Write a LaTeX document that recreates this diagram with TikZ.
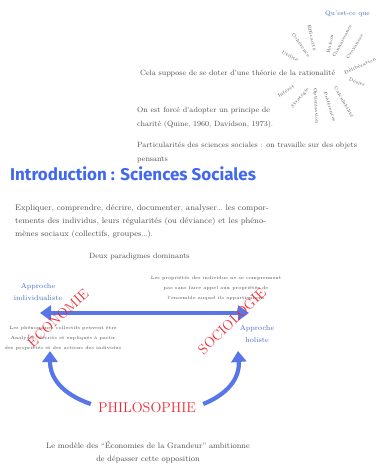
\documentclass[tikz,border=0pt]{standalone}
\usepackage{fontspec}
\newfontfamily\titlefont{Fira Sans}
\usetikzlibrary{arrows.meta}
\definecolor{txt}{RGB}{80,80,80}
\definecolor{ablue}{RGB}{88,118,232}
\definecolor{tblue}{RGB}{72,108,190}
\definecolor{ttlblue}{RGB}{64,104,240}
\definecolor{rred}{RGB}{242,42,52}
\tikzset{
  body/.style={inner sep=0pt, anchor=base west, text=txt, font=\fontsize{7.6}{9}\selectfont},
  bodyl/.style={inner sep=0pt, anchor=base west, text=txt, font=\fontsize{8.1}{9}\selectfont},
  tiny/.style={inner sep=0pt, anchor=base, text=txt, font=\fontsize{4.6}{5}\selectfont},
  spoke/.style={inner sep=0pt, text=txt, font=\fontsize{4.6}{5}\selectfont},
  appr/.style={inner sep=0pt, anchor=base, text=tblue, font=\fontsize{7.2}{9}\selectfont},
  redlbl/.style={inner sep=0pt, text=rred, font=\fontsize{14}{16}\selectfont},
  bigarrow/.style={ablue, line width=4.2pt, -{Triangle[length=11pt,width=15pt]}},
}
\begin{document}
\begin{tikzpicture}[x=1pt,y=-1pt]
\useasboundingbox (0,0) rectangle (377,465);
\fill[white] (0,0) rectangle (377,465);

% top right
\node[inner sep=0pt, anchor=base west, text=tblue, font=\fontsize{6.6}{8}\selectfont] (qcq) at (325,16) {Qu'est-ce que};
\node[body] (l1) at (140,76) {Cela suppose de se doter d'une théorie de la rationalité};

% spokes
\node[spoke, rotate=-28] (s1) at (290,56) {Utilité};
\node[spoke, rotate=-55] (s2) at (301,45) {Cohérence};
\node[spoke, rotate=-77] (s3) at (312,38) {Efficacité};
\node[spoke, rotate=78] (s4) at (330,44) {Raison};
\node[spoke, rotate=62] (s5) at (342,41) {Connaissance};
\node[spoke, rotate=58] (s6) at (355,47) {Croyances};
\node[spoke, rotate=25] (s7) at (360,66) {Délibération};
\node[spoke, rotate=-20] (s8) at (357,82) {Désirs};
\node[spoke, rotate=-60] (s9) at (344,102) {Calculabilité};
\node[spoke, rotate=-72] (s10) at (330,107) {Préférences};
\node[spoke, rotate=-87] (s11) at (316,106) {Optimisation};
\node[spoke, rotate=49] (s12) at (300,98) {Stratégie};
\node[spoke, rotate=33] (s13) at (286,91) {Intérêt};

\node[body] (l2a) at (137,113) {On est forcé d'adopter un principe de};
\node[body] (l2b) at (137,127) {charité (Quine, 1960, Davidson, 1973).};
\node[body] (l3a) at (137,148) {Particularités des sciences sociales : on travaille sur des objets};
\node[body] (l3b) at (137,161) {pensants};

% title
\node[inner sep=0pt, anchor=base west, text=ttlblue, font=\titlefont\bfseries\fontsize{17}{20}\selectfont] (title) at (10,180) {Introduction : Sciences Sociales};

\node[bodyl] (e1) at (15,210) {Expliquer, comprendre, décrire, documenter, analyser… les compor-};
\node[bodyl] (e2) at (15,223) {tements des individus, leurs régularités (ou déviance) et les phéno-};
\node[bodyl] (e3) at (15,236) {mènes sociaux (collectifs, groupes…).};

\node[body] (deux) at (89,258) {Deux paradigmes dominants};

% holist small text
\node[tiny] (h1) at (216,279) {Les propriétés des individus ne se comprennent};
\node[tiny] (h2) at (216,289) {pas sans faire appel aux propriétés de};
\node[tiny] (h3) at (216,299) {l'ensemble auquel ils appartiennent};

% individualist small text
\node[tiny] (i1) at (63,329) {Les phénomènes collectifs peuvent être};
\node[tiny] (i2) at (63,339) {Analysés, décrits et expliqués à partir};
\node[tiny] (i3) at (63,349) {des propriétés et des actions des individus};

\node[appr] (ai1) at (38,288) {Approche};
\node[appr] (ai2) at (38,300) {individualiste};
\node[appr] (ah1) at (257,330) {Approche};
\node[appr] (ah2) at (257,342) {holiste};

% horizontal arrow
\coordinate (hl) at (40,313);
\coordinate (hr) at (249,313);
\coordinate (hm) at (144,313);
\draw[bigarrow] (hm) -- (hl);
\draw[bigarrow] (hm) -- (hr);

\node[redlbl, rotate=43] (eco) at (57,317) {ÉCONOMIE};
\node[redlbl, rotate=44] (soc) at (232,321) {SOCIOLOGIE};

% philosophy
\node[inner sep=0pt, text=rred, font=\fontsize{14.3}{16}\selectfont] (philo) at (147,408) {PHILOSOPHIE};
\coordinate (tl) at (50,351);
\coordinate (tr) at (238,351);
\draw[bigarrow] (philo.west) ++(-7,-4) .. controls (62,394) and (50,378) .. (tl);
\draw[bigarrow] (philo.east) ++(7,-4) .. controls (228,394) and (240,378) .. (tr);

\node[body, anchor=base, font=\fontsize{7.9}{9}\selectfont] (b1) at (148,448) {Le modèle des ``Économies de la Grandeur'' ambitionne};
\node[body, anchor=base, font=\fontsize{7.9}{9}\selectfont] (b2) at (148,461) {de dépasser cette opposition};
\end{tikzpicture}
\end{document}
